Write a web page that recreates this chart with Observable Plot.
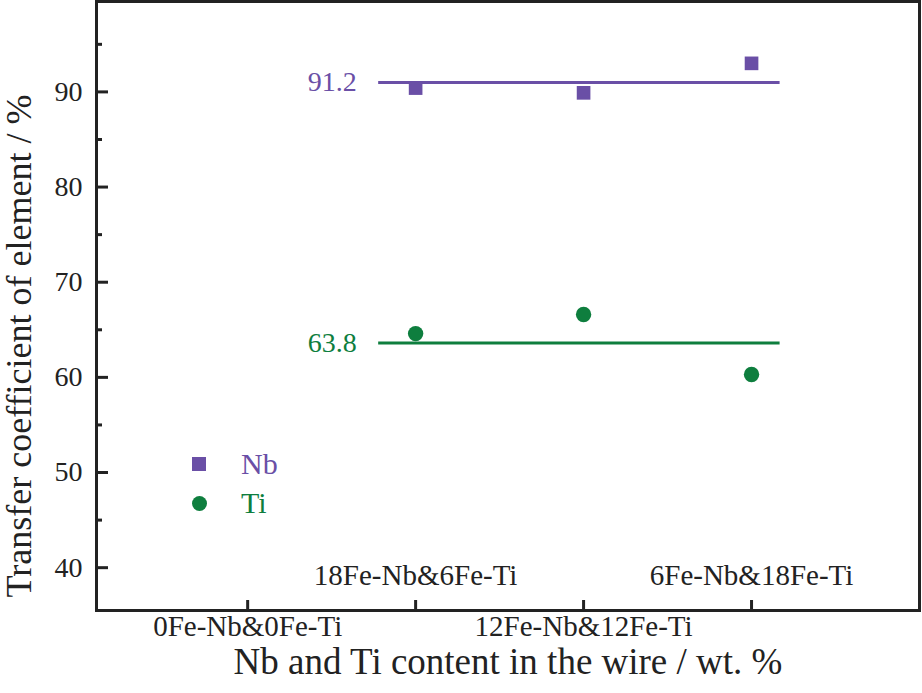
<!DOCTYPE html>
<html>
<head>
<meta charset="utf-8">
<script src="https://cdn.jsdelivr.net/npm/d3@7"></script>
<script src="https://cdn.jsdelivr.net/npm/@observablehq/plot@0.6"></script>
<style>
  html, body { margin: 0; padding: 0; background: #fff; }
  #wrap { position: relative; width: 922px; height: 693px; font-family: "Liberation Serif", "DejaVu Serif", serif; }
  .leg { position: absolute; font-size: 30px; line-height: 30px; white-space: nowrap; }
  .sw { position: absolute; }
</style>
</head>
<body>
<div id="wrap"></div>
<script>
// ---- data ----
const categories = ["0Fe-Nb&0Fe-Ti", "18Fe-Nb&6Fe-Ti", "12Fe-Nb&12Fe-Ti", "6Fe-Nb&18Fe-Ti"];
const catIndex = [1, 2, 3, 4];
const nbValues = [null, 90.4, 89.9, 93.0];
const tiValues = [null, 64.6, 66.6, 60.3];
const meanLabels = ["91.2", "63.8"];
const meanValues = [91.0, 63.6];
const meanSpan = [1.78, 4.17];
const series = ["Nb", "Ti"];
const colors = ["#6a4fa6", "#0e7e3e"];
const yTicks = [40, 50, 60, 70, 80, 90];
const yMinor = [45, 55, 65, 75, 85, 95];

const nbData = catIndex.map((x, i) => ({x, y: nbValues[i]})).filter(d => d.y != null);
const tiData = catIndex.map((x, i) => ({x, y: tiValues[i]})).filter(d => d.y != null);
const means = series.map((s, i) => ({s, y: meanValues[i], label: meanLabels[i], x1: meanSpan[0], x2: meanSpan[1], color: colors[i]}));
const cats = catIndex.map((x, i) => ({x, label: categories[i]}));

const font = "Liberation Serif, DejaVu Serif, serif";

const chart = Plot.plot({
  width: 922,
  height: 693,
  marginLeft: 96,
  marginRight: 3,
  marginTop: 1,
  marginBottom: 83,
  style: {fontFamily: font, background: "white", color: "#222"},
  x: {type: "linear", domain: [0.1, 5.0]},
  y: {domain: [35.5, 99.5]},
  marks: [
    // y axis major ticks + labels
    Plot.axisY({ticks: yTicks, tickSize: -12, tickPadding: 26, fontSize: 28, label: null, stroke: "#222", strokeWidth: 3}),
    Plot.axisY({ticks: yMinor, tickSize: -6, text: null, label: null, stroke: "#222", strokeWidth: 3}),
    // x axis ticks
    Plot.axisX({ticks: catIndex, tickSize: -10, text: null, label: null, stroke: "#222", strokeWidth: 3}),
    // category labels: odd below axis, even above axis
    Plot.text(cats.filter((d, i) => i % 2 === 0), {x: "x", text: "label", frameAnchor: "bottom", dy: 25, fontSize: 29, fill: "#222"}),
    Plot.text(cats.filter((d, i) => i % 2 === 1), {x: "x", text: "label", frameAnchor: "bottom", dy: -26, fontSize: 29, fill: "#222"}),
    // axis titles
    Plot.text(["Nb and Ti content in the wire / wt. %"], {frameAnchor: "bottom", textAnchor: "middle", dy: 63, fontSize: 37, fill: "#222"}),
    Plot.text(["Transfer coefficient of element / %"], {frameAnchor: "left", textAnchor: "middle", dx: -77, dy: 40, rotate: -90, fontSize: 36, fill: "#222"}),
    // mean lines
    Plot.ruleY(means, {y: "y", x1: "x1", x2: "x2", stroke: "color", strokeWidth: 3}),
    Plot.text(means, {x: "x1", y: "y", text: "label", fill: "color", textAnchor: "end", dx: -22, fontSize: 28}),
    // points
    Plot.dot(nbData, {x: "x", y: "y", symbol: "square", r: 7.7, fill: colors[0]}),
    Plot.dot(tiData, {x: "x", y: "y", symbol: "circle", r: 7.7, fill: colors[1]}),
    Plot.frame({stroke: "#222", strokeWidth: 3})
  ]
});

const wrap = document.getElementById("wrap");
wrap.appendChild(chart);

// legend overlay
const legendPos = [464, 503];
const legendBaseline = [474, 513];
series.forEach((s, i) => {
  const sw = document.createElement("div");
  sw.className = "sw";
  const size = i === 0 ? 14 : 15;
  sw.style.left = (199 - size / 2) + "px";
  sw.style.top = (legendPos[i] - size / 2) + "px";
  sw.style.width = size + "px";
  sw.style.height = size + "px";
  sw.style.background = colors[i];
  if (i === 1) sw.style.borderRadius = "50%";
  wrap.appendChild(sw);
  const t = document.createElement("div");
  t.className = "leg";
  t.textContent = s;
  t.style.left = "241px";
  t.style.top = (legendBaseline[i] - 25) + "px";
  t.style.color = colors[i];
  wrap.appendChild(t);
});
</script>
</body>
</html>
